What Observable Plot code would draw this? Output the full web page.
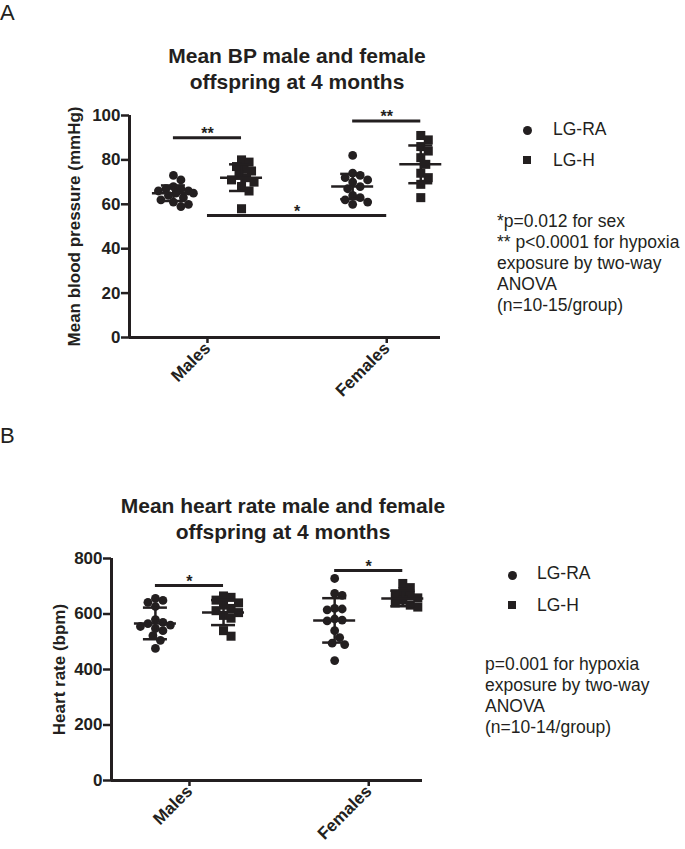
<!DOCTYPE html>
<html><head><meta charset="utf-8">
<script src="https://cdn.jsdelivr.net/npm/d3@7"></script>
<script src="https://cdn.jsdelivr.net/npm/@observablehq/plot@0.6"></script>
<style>
body{margin:0;background:#fff;}
#root{position:relative;width:685px;height:849px;font-family:"Liberation Sans",Arial,sans-serif;color:#231f20;overflow:hidden;}
.abs{position:absolute;white-space:nowrap;}
.letter{font-size:22px;line-height:22px;left:0;}
.title{font-size:21px;line-height:26px;font-weight:bold;text-align:center;}
.leg{font-size:17.5px;line-height:21px;}
.note{font-size:17.5px;line-height:21px;}
.sym{position:absolute;background:#231f20;}
.svgbox{position:absolute;left:0;}
</style></head><body><div id="root"></div>
<script>
// ---------- data ----------
const sexes = ["Males", "Females"];
const groups = ["LG-RA", "LG-H"];

// Panel A: mean blood pressure (mmHg)
const bpMalesRA   = [73, 71, 68, 67, 67, 66, 66, 65, 65, 64, 63, 62, 61, 60, 59];
const bpMalesH    = [80, 79, 77, 76, 75, 73, 72, 71, 70, 68, 66, 58];
const bpFemalesRA = [82, 74, 73, 72, 71, 70, 68, 67, 64, 63, 62, 61, 60];
const bpFemalesH  = [91, 89, 86, 84, 81, 78, 74, 72, 69, 63];
const bpMean = [65, 72, 68, 78];      // Males RA, Males H, Females RA, Females H
const bpSD   = [3.5, 6, 5.7, 8.5];
const bpTicks = [0, 20, 40, 60, 80, 100];
const bpSig = [
  {from: "Males LG-RA", to: "Males LG-H", y: 90, label: "**"},
  {from: "Females LG-RA", to: "Females LG-H", y: 97.5, label: "**"},
  {from: "Males", to: "Females", y: 55, label: "*"}
];

// Panel B: heart rate (bpm)
const hrMalesRA   = [656, 649, 642, 627, 580, 570, 565, 560, 555, 548, 540, 522, 505, 476];
const hrMalesH    = [665, 660, 650, 640, 632, 620, 612, 605, 595, 585, 540, 520];
const hrFemalesRA = [728, 674, 667, 620, 618, 615, 582, 578, 575, 540, 515, 495, 490, 432];
const hrFemalesH  = [710, 695, 680, 672, 665, 658, 650, 640, 632, 625];
const hrMean = [566, 605, 577, 656];
const hrSD   = [57, 45, 80, 28];
const hrTicks = [0, 200, 400, 600, 800];
const hrSig = [
  {from: "Males LG-RA", to: "Males LG-H", y: 703, label: "*"},
  {from: "Females LG-RA", to: "Females LG-H", y: 757, label: "*"}
];

// ---------- layout helpers ----------
const ink = "#231f20";
const W = 685;
const xDomain = [0.565, 2.3];
const groupOffset = 0.19;   // half distance between the two groups within a sex
function pos(name) {
  const parts = name.split(" ");
  const s = sexes.indexOf(parts[0]) + 1;
  if (parts.length === 1) return s;
  return s + (groups.indexOf(parts[1]) === 0 ? -groupOffset : groupOffset);
}

// simple deterministic beeswarm (pixel space), returns pixel offsets
function swarm(vals, kPx, D = 7.5, step = 2.5, maxOff = 21) {
  const placed = [], out = new Array(vals.length);
  const order = vals.map((v, i) => i).sort((a, b) => vals[b] - vals[a]);
  for (const i of order) {
    const y = vals[i] * kPx;
    let best = 0, bestD = -1;
    for (let j = 0; j < 40; j++) {
      const c = j === 0 ? 0 : (j % 2 ? 1 : -1) * Math.ceil(j / 2) * step;
      if (Math.abs(c) > maxOff) continue;
      const md = placed.length ? Math.min(...placed.map(p => Math.hypot(p.x - c, p.y - y))) : Infinity;
      if (md >= D) { best = c; break; }
      if (md > bestD) { bestD = md; best = c; }
    }
    placed.push({x: best, y});
    out[i] = best;
  }
  return out;
}

function buildPanel(cfg) {
  const {series, means, sds, sig, yDomain, ticks, label, labelOffset, top, height, marginTop, marginBottom, marginLeft} = cfg;
  const frameW = 311;
  const marginRight = W - marginLeft - frameW;
  const pxPerX = frameW / (xDomain[1] - xDomain[0]);
  const frameH = height - marginTop - marginBottom;
  const kPx = frameH / (yDomain[1] - yDomain[0]);
  const names = ["Males LG-RA", "Males LG-H", "Females LG-RA", "Females LG-H"];
  const rows = [];
  series.forEach((vals, si) => {
    const offs = swarm(vals, kPx);
    vals.forEach((v, i) => rows.push({
      name: names[si], group: groups[si % 2], v, x: pos(names[si]) + offs[i] / pxPerX
    }));
  });
  const stats = names.map((n, i) => ({name: n, x: pos(n), mean: means[i], sd: sds[i]}));
  const meanHalf = 21 / pxPerX, capHalf = 12 / pxPerX;
  const sigRows = sig.map(s => ({...s, x1: pos(s.from), x2: pos(s.to), xm: (pos(s.from) + pos(s.to)) / 2}));
  const font = '"Liberation Sans", Arial, sans-serif';

  const svg = Plot.plot({
    width: W, height, marginTop, marginBottom, marginLeft, marginRight,
    x: {domain: xDomain, axis: null},
    y: {domain: yDomain, axis: null},
    style: {fontFamily: font, fontSize: "17px", fontWeight: "bold", color: ink, background: "transparent"},
    marks: [
      Plot.axisY({ticks, tickSize: 8, tickPadding: 1, strokeWidth: 2.5, stroke: ink, fill: ink,
        fontSize: 17, fontWeight: "bold", fontFamily: font,
        label, labelAnchor: "center", labelArrow: false, labelOffset}),
      Plot.axisX({ticks: [1, 2], tickFormat: d => sexes[d - 1], tickRotate: -45, tickSize: 6, tickPadding: 2,
        fontSize: 17, fontWeight: "bold", fontFamily: font,
        strokeWidth: 2.5, stroke: ink, fill: ink, label: null}),
      Plot.ruleY([yDomain[0]], {stroke: ink, strokeWidth: 3}),
      Plot.ruleX([xDomain[0]], {y1: yDomain[0], y2: yDomain[1], stroke: ink, strokeWidth: 3}),
      Plot.dot(rows.filter(d => d.group === groups[0]), {x: "x", y: "v", r: 4.4, fill: ink, stroke: "none", symbol: "circle"}),
      Plot.dot(rows.filter(d => d.group === groups[1]), {x: "x", y: "v", r: 5.1, fill: ink, stroke: "none", symbol: "square"}),
      Plot.ruleX(stats, {x: "x", y1: d => d.mean - d.sd, y2: d => d.mean + d.sd, stroke: ink, strokeWidth: 2.5}),
      Plot.ruleY(stats, {y: "mean", x1: d => d.x - meanHalf, x2: d => d.x + meanHalf, stroke: ink, strokeWidth: 2.5}),
      Plot.ruleY(stats, {y: d => d.mean + d.sd, x1: d => d.x - capHalf, x2: d => d.x + capHalf, stroke: ink, strokeWidth: 2.5}),
      Plot.ruleY(stats, {y: d => d.mean - d.sd, x1: d => d.x - capHalf, x2: d => d.x + capHalf, stroke: ink, strokeWidth: 2.5}),
      Plot.ruleY(sigRows, {y: "y", x1: "x1", x2: "x2", stroke: ink, strokeWidth: 3}),
      Plot.text(sigRows, {x: "xm", y: "y", text: "label", dy: -4, fontSize: 16, fontWeight: "bold", fill: ink})
    ]
  });
  const box = document.createElement("div");
  box.className = "svgbox";
  box.style.top = top + "px";
  box.appendChild(svg);
  return box;
}

const root = document.getElementById("root");
function addText(cls, text, left, top, width) {
  const d = document.createElement("div");
  d.className = "abs " + cls;
  d.style.left = left + "px";
  d.style.top = top + "px";
  if (width) d.style.width = width + "px";
  d.innerHTML = text;
  root.appendChild(d);
  return d;
}
function addSym(shape, cx, cy, size) {
  const d = document.createElement("div");
  d.className = "sym";
  d.style.left = (cx - size / 2) + "px";
  d.style.top = (cy - size / 2) + "px";
  d.style.width = size + "px";
  d.style.height = size + "px";
  if (shape === "circle") d.style.borderRadius = "50%";
  root.appendChild(d);
}

// Panel A
root.appendChild(buildPanel({
  series: [bpMalesRA, bpMalesH, bpFemalesRA, bpFemalesH], means: bpMean, sds: bpSD, sig: bpSig,
  yDomain: [0, 100], ticks: bpTicks, label: "Mean blood pressure (mmHg)", labelOffset: 62,
  top: 100, height: 330, marginTop: 15, marginBottom: 93, marginLeft: 129
}));
// Panel B
root.appendChild(buildPanel({
  series: [hrMalesRA, hrMalesH, hrFemalesRA, hrFemalesH], means: hrMean, sds: hrSD, sig: hrSig,
  yDomain: [0, 800], ticks: hrTicks, label: "Heart rate (bpm)", labelOffset: 59,
  top: 545, height: 304, marginTop: 13, marginBottom: 69, marginLeft: 111
}));

addText("letter", "A", 0, 2);
addText("letter", "B", 0, 425);
addText("title", "Mean BP male and female<br>offspring at 4 months", 0, 42.7, 594);
addText("title", "Mean heart rate male and female<br>offspring at 4 months", 0, 492.7, 566);

addSym("circle", 527, 130, 9);
addText("leg", groups[0], 553, 119.4);
addSym("square", 527, 160, 8.5);
addText("leg", groups[1], 553, 150.4);
addText("note", "*p=0.012 for sex<br>** p&lt;0.0001 for hypoxia<br>exposure by two-way<br>ANOVA<br>(n=10-15/group)", 497, 211.4);

addSym("circle", 512, 575, 9);
addText("leg", groups[0], 537, 563.4);
addSym("square", 512, 605, 8.5);
addText("leg", groups[1], 537, 595.4);
addText("note", "p=0.001 for hypoxia<br>exposure by two-way<br>ANOVA<br>(n=10-14/group)", 485, 654.4);
</script>
</body></html>
